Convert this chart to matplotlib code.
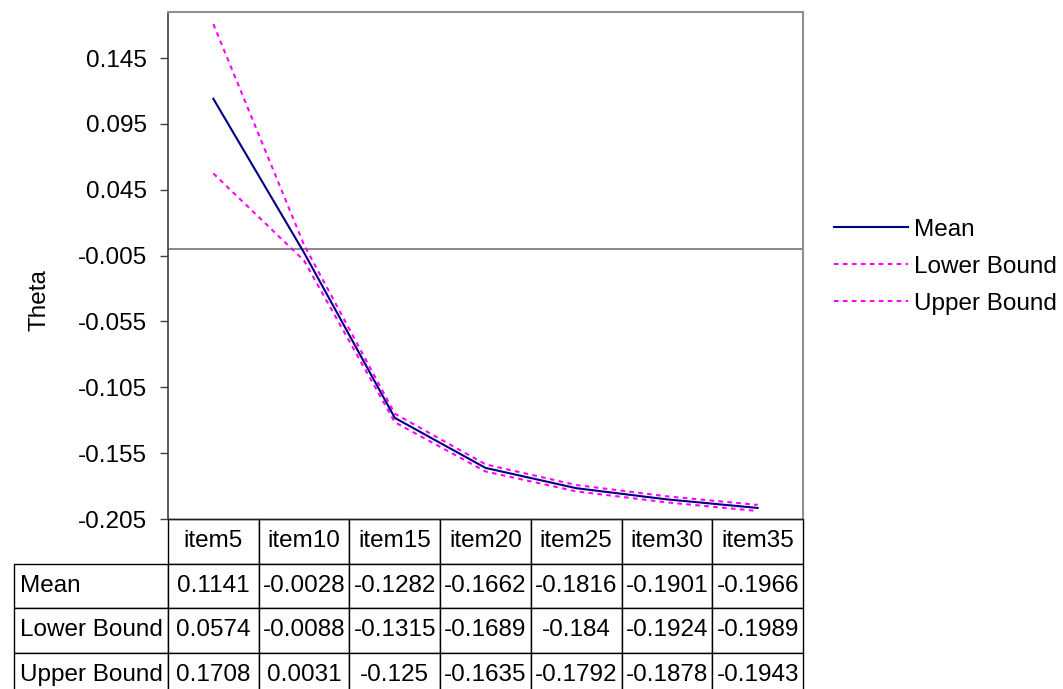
import numpy as np
import matplotlib
matplotlib.use("Agg")
import matplotlib.pyplot as plt

plt.rcParams['font.family'] = ['Liberation Sans', 'DejaVu Sans']

categories = ["item5", "item10", "item15", "item20", "item25", "item30", "item35"]
mean_vals = [0.1141, -0.0028, -0.1282, -0.1662, -0.1816, -0.1901, -0.1966]
lower_vals = [0.0574, -0.0088, -0.1315, -0.1689, -0.184, -0.1924, -0.1989]
upper_vals = [0.1708, 0.0031, -0.125, -0.1635, -0.1792, -0.1878, -0.1943]
cell_text = [
    ["0.1141", "-0.0028", "-0.1282", "-0.1662", "-0.1816", "-0.1901", "-0.1966"],
    ["0.0574", "-0.0088", "-0.1315", "-0.1689", "-0.184", "-0.1924", "-0.1989"],
    ["0.1708", "0.0031", "-0.125", "-0.1635", "-0.1792", "-0.1878", "-0.1943"],
]
series_names = ["Mean", "Lower Bound", "Upper Bound"]
ytick_vals = [-0.205, -0.155, -0.105, -0.055, -0.005, 0.045, 0.095, 0.145]

W, H = 1063, 689
FS = 17.5
fig = plt.figure(figsize=(W / 100, H / 100), dpi=100)

left, right, top, bottom = 168, 803, 12, 519
ax_w, ax_h = right - left, bottom - top
ax = fig.add_axes([left / W, 1 - bottom / H, ax_w / W, ax_h / H])

x = np.arange(len(categories))
ax.plot(x, mean_vals, color="#000080", lw=1.5, label=series_names[0], zorder=4)
dots = (0, (2.2, 2.1))
ax.plot(x, lower_vals, color="#FF00FF", lw=1.5, ls=dots, label=series_names[1], zorder=3)
ax.plot(x, upper_vals, color="#FF00FF", lw=1.5, ls=dots, label=series_names[2], zorder=3)

ax.axhline(0, color="#808080", lw=1.3, zorder=2)

ax.set_xlim(-0.5, len(categories) - 0.5)
ax.set_ylim(-0.205, 0.18)
ax.set_yticks(ytick_vals)
ax.set_yticklabels([f"{v:g}" for v in ytick_vals], fontsize=FS)
ax.set_xticks([])
ax.tick_params(axis="y", length=6, width=1.0, color="#404040", pad=9)

for side in ("top", "right"):
    ax.spines[side].set_color("#909090")
    ax.spines[side].set_linewidth(1.5)
ax.spines["left"].set_color("#404040")
ax.spines["left"].set_linewidth(1.2)
ax.spines["bottom"].set_color("#202020")
ax.spines["bottom"].set_linewidth(1.0)

fig.text(40 / W, 1 - 300 / H, "Theta", rotation=90, ha="center", va="center", fontsize=FS)

# data table beneath the plot area (sizes in axes fractions);
# the bbox covers the header + value grid, row labels hang off to the left
tbl_left = 10
row_h = 44.5 / ax_h
label_w = (left - tbl_left) / ax_w
col_w = 1.0 / len(categories)
n_rows = len(series_names) + 1
bbox_axes = [0.0, -n_rows * row_h, 1.0, n_rows * row_h]
table = ax.table(cellText=cell_text, rowLabels=series_names, colLabels=categories,
                 cellLoc="center", rowLoc="left", bbox=bbox_axes)
table.auto_set_font_size(False)
table.set_fontsize(FS)
for (r, c), cell in table.get_celld().items():
    cell.set_edgecolor("#000000")
    cell.set_linewidth(1.0)
    cell.set_height(row_h)
    if c == -1:
        cell.set_width(label_w)
        cell.PAD = 0.04
    else:
        cell.set_width(col_w)
    cell.get_text().set_fontsize(FS)

leg = fig.legend(loc="center left", bbox_to_anchor=(834 / W, 1 - 266.7 / H),
                 frameon=False, fontsize=FS, handlelength=3.05, handletextpad=0.25,
                 labelspacing=0.62, borderpad=0, borderaxespad=0)

fig.savefig("out.png", dpi=100)
